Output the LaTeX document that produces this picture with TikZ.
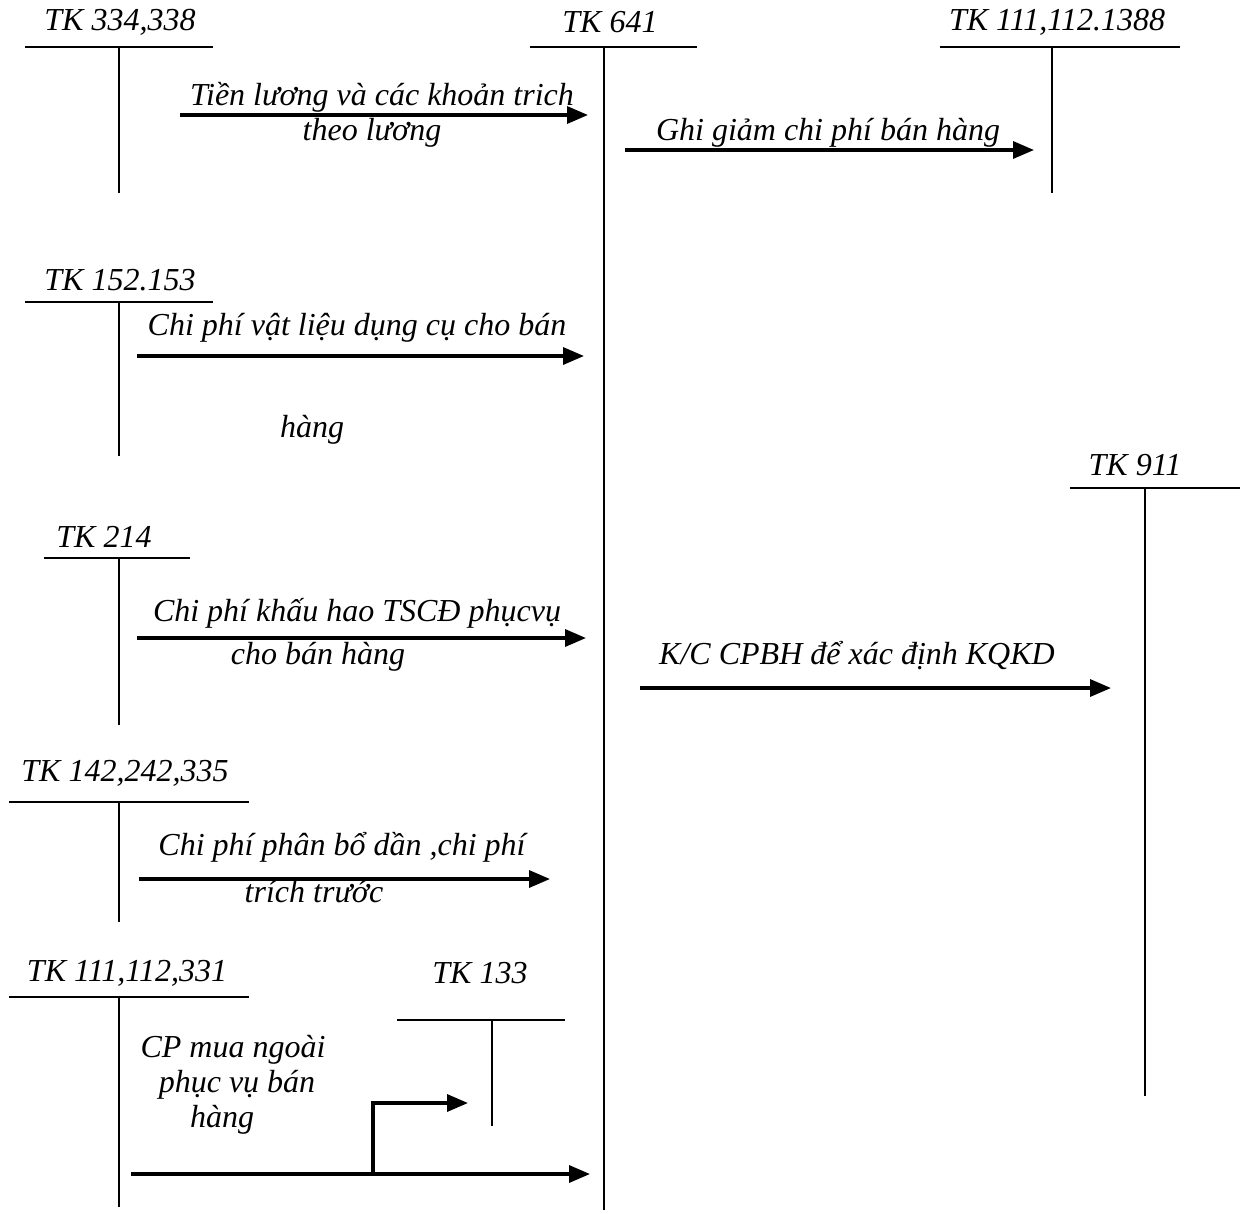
\documentclass[tikz,border=0pt]{standalone}
\usepackage{fontspec}
\setmainfont{Liberation Serif}
\usepackage{tikz}
\usetikzlibrary{arrows.meta}

\begin{document}
\begin{tikzpicture}[x=1pt, y=-1pt,
  every node/.style={font=\fontsize{32}{36}\selectfont\itshape, inner sep=0pt},
  tline/.style={line width=2.2pt},
  flow/.style={line width=3.4pt, -{Triangle[length=21pt,width=17pt]}}]
\useasboundingbox (0,0) rectangle (1244,1213);

% Account TK 641 (centre)
\node (n641) at (610,22) {TK 641};
\draw[tline] (530,47) -- (697,47);
\draw[tline] (604,47) -- (604,1210);

% Account TK 334,338
\node (n334) at (120,22) {TK 334,338};
\draw[tline] (25,47) -- (213,47);
\draw[tline] (119,47) -- (119,193);

% Account TK 111,112.1388
\node (n1388) at (1057,22) {TK 111,112.1388};
\draw[tline] (940,47) -- (1180,47);
\draw[tline] (1052,47) -- (1052,193);

% Account TK 152.153
\node (n152) at (120,280) {TK 152.153};
\draw[tline] (25,302) -- (213,302);
\draw[tline] (119,302) -- (119,456);

% Account TK 911
\node (n911) at (1135,465) {TK 911};
\draw[tline] (1070,488) -- (1240,488);
\draw[tline] (1145,488) -- (1145,1096);

% Account TK 214
\node (n214) at (104,537) {TK 214};
\draw[tline] (44,558) -- (190,558);
\draw[tline] (119,558) -- (119,725);

% Account TK 142,242,335
\node (n142) at (125,773) {TK 142,242,335};
\draw[tline] (9,802) -- (249,802);
\draw[tline] (119,802) -- (119,922);

% Account TK 111,112,331
\node (n331) at (127,973) {TK 111,112,331};
\draw[tline] (9,997) -- (249,997);
\draw[tline] (119,997) -- (119,1207);

% Account TK 133
\node (n133) at (480,973) {TK 133};
\draw[tline] (397,1020) -- (565,1020);
\draw[tline] (492,1020) -- (492,1126);

% Flows into TK 641
\coordinate (a1s) at (180,115);
\coordinate (a1e) at (588,115);
\draw[flow] (a1s) -- (a1e);
\node (t1a) at (382,97) {Tiền lương và các khoản trich};
\node (t1b) at (372,133) {theo lương};

\coordinate (a3s) at (137,356);
\coordinate (a3e) at (584,356);
\draw[flow] (a3s) -- (a3e);
\node (t3a) at (357,328) {Chi phí vật liệu dụng cụ cho bán};
\node (t3b) at (312,430) {hàng};

\coordinate (a4s) at (137,638);
\coordinate (a4e) at (586,638);
\draw[flow] (a4s) -- (a4e);
\node (t4a) at (357,613) {Chi phí khấu hao TSCĐ phụcvụ};
\node (t4b) at (318,657) {cho bán hàng};

\coordinate (a5s) at (139,879);
\coordinate (a5e) at (550,879);
\draw[flow] (a5s) -- (a5e);
\node (t5a) at (342,847) {Chi phí phân bổ dần ,chi phí};
\node (t5b) at (314,892) {trích trước};

% Outside purchases, split to TK 133
\coordinate (a6s) at (131,1174);
\coordinate (a6e) at (590,1174);
\coordinate (a6k) at (373,1174);
\coordinate (a6t) at (468,1103);
\draw[flow] (a6s) -- (a6e);
\draw[flow] (a6k) |- (a6t);
\node (t6a) at (233,1050) {CP mua ngoài};
\node (t6b) at (237,1085) {phục vụ bán};
\node (t6c) at (222,1120) {hàng};

% Flows out of TK 641
\coordinate (a2s) at (625,150);
\coordinate (a2e) at (1034,150);
\draw[flow] (a2s) -- (a2e);
\node (t2) at (828,133) {Ghi giảm chi phí bán hàng};

\coordinate (a7s) at (640,688);
\coordinate (a7e) at (1111,688);
\draw[flow] (a7s) -- (a7e);
\node (t7) at (857,656) {K/C CPBH để xác định KQKD};

\end{tikzpicture}
\end{document}
